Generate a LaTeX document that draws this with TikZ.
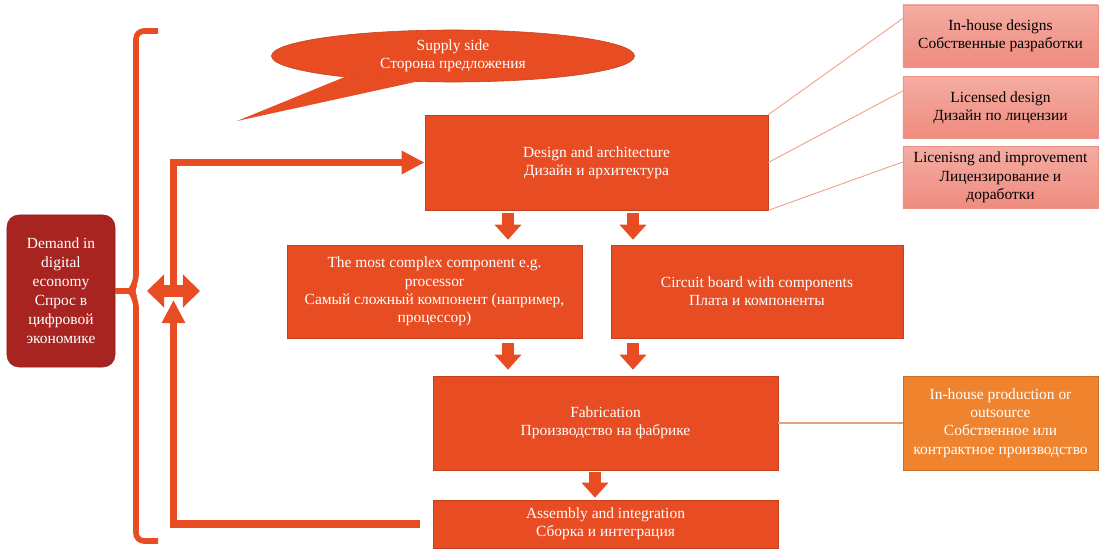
\documentclass[tikz,border=0pt]{standalone}
\usepackage{fontspec}
\setmainfont{Liberation Serif}
\usetikzlibrary{arrows.meta,calc,shapes.geometric}
\definecolor{MainRed}{HTML}{E84C22}
\definecolor{DemandRed}{HTML}{A82421}
\definecolor{PinkTop}{HTML}{F4ACA2}
\definecolor{PinkBot}{HTML}{EF8B7E}
\definecolor{PinkLine}{HTML}{EE9383}
\definecolor{OutOrange}{HTML}{F0832E}
\definecolor{LinkSalmon}{HTML}{F29A86}
\definecolor{LinkTan}{HTML}{E3A27F}

\begin{document}
\begin{tikzpicture}[x=0.025cm,y=-0.025cm,
      every node/.style={font=\fontsize{11}{13}\selectfont,align=center,text=white},
      block/.style={draw=MainRed!85!black,thin,fill=MainRed,inner sep=2pt},
      demand/.style={draw=DemandRed!85!black,thin,fill=DemandRed,rounded corners=0.3cm,
        minimum width=2.7cm,minimum height=3.8cm,font=\fontsize{11}{13.5}\selectfont},
      supply/.style={ellipse,draw=MainRed!85!black,thin,fill=MainRed,inner sep=0pt,
        minimum width=9.075cm,minimum height=1.3cm},
      option/.style={draw=PinkLine,thin,top color=PinkTop,bottom color=PinkBot,text=black,
        minimum width=4.875cm,minimum height=1.56cm,inner sep=1pt},
      outsrc/.style={draw=OutOrange!85!black,thin,fill=OutOrange,
        minimum width=4.875cm,minimum height=2.35cm,inner sep=1pt},
      bigline/.style={draw=MainRed,line width=0.19cm},
      bighead/.style={-{Triangle[width=0.55cm,length=0.575cm]}},
      fatarrow/.style={draw=MainRed,line width=0.3cm,-{Triangle[width=0.65cm,length=0.375cm]}},
      dblarrow/.style={draw=MainRed,line width=0.3cm,
        {Triangle[width=0.8cm,length=0.425cm]}-{Triangle[width=0.8cm,length=0.425cm]}},
      bracket/.style={draw=MainRed,line width=0.14cm,rounded corners=0.2cm},
      link/.style={draw=LinkSalmon,line width=0.6pt}]
      \useasboundingbox (0,0) rectangle (1101,550);
      \node[demand] (demand) at (61,291) {Demand in\\digital\\economy\\Спрос в\\цифровой\\экономике};
      \node[supply] (supply) at (453,56) {Supply side\\Сторона предложения};
      \fill[MainRed] (supply.191) -- (237,121) -- (supply.215) -- cycle;
      \node[block,minimum width=8.575cm,minimum height=2.375cm] (design) at (596.5,162.5)
        {Design and architecture\\Дизайн и архитектура};
      \node[block,minimum width=7.375cm,minimum height=2.325cm] (complex) at (434.5,291.5)
        {The most complex component e.g.\\processor\\Самый сложный компонент (например,\\процессор)};
      \node[block,minimum width=7.3cm,minimum height=2.325cm] (circuit) at (757,291.5)
        {Circuit board with components\\Плата и компоненты};
      \node[block,minimum width=8.625cm,minimum height=2.35cm] (fab) at (605.5,423)
        {Fabrication\\Производство на фабрике};
      \node[block,minimum width=8.625cm,minimum height=1.2cm] (assembly) at (605.5,524)
        {Assembly and integration\\Сборка и интеграция};
      \node[option] (inhouse) at (1000.5,36) {In-house designs\\Собственные разработки};
      \node[option] (licensed) at (1000.5,107.5) {Licensed design\\Дизайн по лицензии};
      \node[option] (improve) at (1000.5,177.5) {Licenisng and improvement\\Лицензирование и\\доработки};
      \node[outsrc] (outsrc) at (1000.5,423)
        {In-house production or\\outsource\\Собственное или\\контрактное производство};
      \coordinate (hub) at (173.5,291);
      \coordinate (cusp) at (130,291);
      \coordinate (c1) at (508,0);
      \coordinate (c2) at (633,0);
      \coordinate (c3) at (595,0);
      \draw[bracket] (158,31) -- (136,31) -- (136,283) -- (cusp) -- (136,299) -- (136,541) -- (158,541);
      \draw[bracket] (demand.east) -- (cusp);
      \draw[bigline,bighead] (hub) |- (design.west);
      \draw[bigline,bighead,shorten <=0.325cm,shorten >=0.225cm] (assembly.west) -| (hub);
      \draw[dblarrow] ($(hub)+(-26.5,0)$) -- ($(hub)+(26.5,0)$);
      \draw[fatarrow,shorten <=0.075cm,shorten >=0.125cm] (design.south -| c1) -- (complex.north -| c1);
      \draw[fatarrow,shorten <=0.075cm,shorten >=0.125cm] (design.south -| c2) -- (circuit.north -| c2);
      \draw[fatarrow,shorten <=0.125cm,shorten >=0.15cm] (complex.south -| c1) -- (fab.north -| c1);
      \draw[fatarrow,shorten <=0.125cm,shorten >=0.15cm] (circuit.south -| c2) -- (fab.north -| c2);
      \draw[fatarrow,shorten <=0.05cm,shorten >=0.05cm] (fab.south -| c3) -- (assembly.north -| c3);
      \draw[link] (design.north east) -- ([yshift=-0.35cm]inhouse.north west);
      \draw[link] (design.east) -- ([yshift=-0.375cm]licensed.north west);
      \draw[link] (design.south east) -- ([yshift=-0.4cm]improve.north west);
      \draw[link,draw=LinkTan,line width=1pt] (fab.east) -- (outsrc.west);
    \end{tikzpicture}
\end{document}
